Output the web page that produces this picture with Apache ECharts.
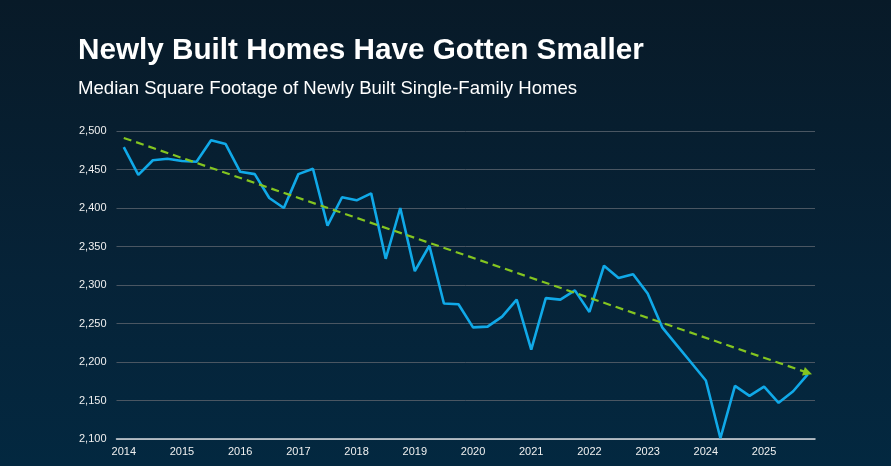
<!DOCTYPE html>
<html>
<head>
<meta charset="utf-8">
<script src="https://cdn.jsdelivr.net/npm/echarts@6/dist/echarts.min.js"></script>
<style>
  html, body { margin: 0; padding: 0; width: 891px; height: 466px; overflow: hidden;
    background: linear-gradient(180deg, #081a28 0%, #062338 60%, #032840 100%); }
  #chart { width: 891px; height: 466px; }
</style>
</head>
<body>
<div id="chart"></div>
<script>
// Quarterly categories 2014 Q1 .. 2025 Q4
const years = [2014, 2015, 2016, 2017, 2018, 2019, 2020, 2021, 2022, 2023, 2024, 2025];
const quarters = ['Q1', 'Q2', 'Q3', 'Q4'];
const categories = [];
years.forEach(y => quarters.forEach(q => categories.push(y + ' ' + q)));

// Median square footage
const sqft = [
  2479, 2443, 2462, 2464, 2461, 2460, 2488, 2483,
  2447, 2444, 2413, 2400, 2444, 2451, 2377, 2414,
  2410, 2419, 2334, 2400, 2318, 2351, 2276, 2275,
  2245, 2246, 2259, 2281, 2216, 2283, 2281, 2293,
  2265, 2325, 2309, 2314, 2289, 2245, 2222, 2199,
  2176, 2101, 2169, 2156, 2168, 2147, 2162, 2184
];

// Trend line endpoints (first and last quarter)
const trendStart = 2491;
const trendEnd = 2186;

const yTicks = [2100, 2150, 2200, 2250, 2300, 2350, 2400, 2450, 2500];

const chart = echarts.init(document.getElementById('chart'), null, { renderer: 'canvas' });
chart.setOption({
  backgroundColor: 'transparent',
  animation: false,
  title: [
    {
      text: 'Newly Built Homes Have Gotten Smaller',
      left: 73, top: 31,
      textStyle: { color: '#ffffff', fontFamily: 'Liberation Sans, Arial, sans-serif', fontWeight: 'bold', fontSize: 29.7 }
    },
    {
      text: 'Median Square Footage of Newly Built Single-Family Homes',
      left: 73, top: 74,
      textStyle: { color: '#ffffff', fontFamily: 'Liberation Sans, Arial, sans-serif', fontWeight: 'normal', fontSize: 18.6 }
    }
  ],
  grid: { left: 116.5, right: 76, top: 131, bottom: 27, containLabel: false },
  xAxis: {
    type: 'category',
    data: categories,
    boundaryGap: true,
    axisLine: { show: true, lineStyle: { color: '#d8dde2', width: 1.5 } },
    axisTick: { show: false },
    axisLabel: {
      interval: 3,
      margin: 7,
      color: '#f0f0f0',
      fontFamily: 'Liberation Sans, Arial, sans-serif',
      fontSize: 11,
      formatter: v => v.split(' ')[0]
    },
    splitLine: { show: false }
  },
  yAxis: {
    type: 'value',
    min: yTicks[0],
    max: yTicks[yTicks.length - 1],
    interval: 50,
    axisLine: { show: false },
    axisTick: { show: false },
    axisLabel: {
      margin: 10,
      color: '#f0f0f0',
      fontFamily: 'Liberation Sans, Arial, sans-serif',
      fontSize: 11,
      formatter: v => v.toLocaleString('en-US')
    },
    splitLine: { lineStyle: { color: '#4a5662', width: 1 } }
  },
  series: [
    {
      type: 'line',
      data: sqft,
      showSymbol: false,
      symbol: 'none',
      lineStyle: { color: '#10a9e8', width: 2.6 },
      z: 3,
      markLine: {
        silent: true,
        animation: false,
        label: { show: false },
        lineStyle: { color: '#84c520', type: [8, 5], width: 2.2 },
        symbol: ['none', 'triangle'],
        symbolSize: [9, 9],
        data: [
          [
            { coord: [categories[0], trendStart] },
            { coord: [categories[categories.length - 1], trendEnd] }
          ]
        ]
      }
    }
  ]
});
</script>
</body>
</html>
